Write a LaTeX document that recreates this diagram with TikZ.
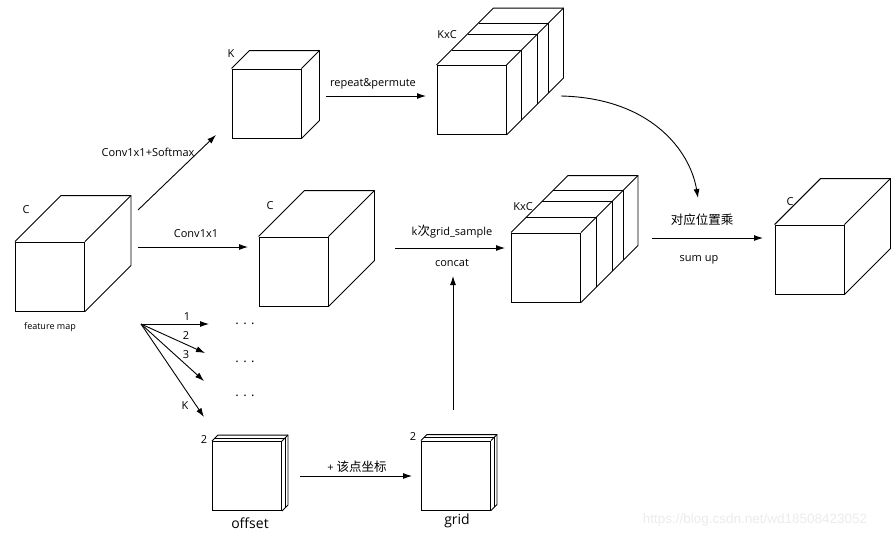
\documentclass[tikz,border=0pt]{standalone}
\usepackage{fontspec}
\setmainfont{Open Sans}
\newfontfamily\cjk{Noto Sans CJK SC}
\newfontfamily\wmfont{Liberation Sans}
\usetikzlibrary{arrows.meta}
\usetikzlibrary{calc}
\tikzset{>={Latex[length=9pt,width=6pt]}}
\colorlet{wmcol}{black!8}
\tikzset{
  face/.style={draw,line width=0.9pt,minimum width=69pt,minimum height=69pt,inner sep=0pt},
  lbl/.style={font=\fontsize{11}{13}\selectfont,inner sep=1pt},
  small lbl/.style={font=\fontsize{9}{10}\selectfont,inner sep=1pt},
  big lbl/.style={font=\fontsize{14}{16}\selectfont,inner sep=1pt},
  dots lbl/.style={font=\fontsize{13}{15}\selectfont,inner sep=1pt},
  conn/.style={->,line width=0.9pt}
}
\newcommand\zhtext[1]{{\cjk\fontsize{12.5}{14}\selectfont #1}}
% top and side face of a cube, drawn behind the front face node
\newcommand\cubeSides[2]{
  \draw[line width=0.9pt] (#1.north west) -- ++(#2,-#2) -| ($(#1.south east)+(#2,-#2)$) -- (#1.south east);
  \draw[line width=0.9pt] (#1.north east) -- ++(#2,-#2);
}
\newcommand\cubeSlice[2]{
  \draw[line width=0.9pt] ($(#1.north west)+(#2,-#2)$) -| ($(#1.south east)+(#2,-#2)$);
}

\begin{document}
\begin{tikzpicture}[x=1pt,y=-1pt]
  \useasboundingbox (0,0) rectangle (896,538);

  % CUBES
  \node[face] (fm) at (50,276.5) {};
  \cubeSides{fm}{46}
  \node[face] (kmap) at (266.5,103.5) {};
  \cubeSides{kmap}{18}
  \node[face] (kc1) at (471.5,100) {};
  \cubeSides{kc1}{57}
  \cubeSlice{kc1}{15}
  \cubeSlice{kc1}{31}
  \cubeSlice{kc1}{42}
  \node[face] (cmap) at (293.5,271.5) {};
  \cubeSides{cmap}{46}
  \node[face] (kc2) at (546,267.5) {};
  \cubeSides{kc2}{57}
  \cubeSlice{kc2}{15}
  \cubeSlice{kc2}{31}
  \cubeSlice{kc2}{42}
  \node[face] (out) at (809.5,259.5) {};
  \cubeSides{out}{46}
  \node[face] (off) at (247,476) {};
  \cubeSides{off}{6}
  \cubeSlice{off}{3}
  \node[face] (grid) at (456,475.5) {};
  \cubeSides{grid}{6}
  \cubeSlice{grid}{3}

  % LABELS
  \node[lbl] (cfm) at (26,210) {C};
  \node[small lbl] (tfm) at (50,327) {feature map};
  \node[lbl] (ck) at (231,54) {K};
  \node[lbl] (ckc1) at (447,35) {KxC};
  \node[lbl] (cc) at (270,206) {C};
  \node[lbl] (ckc2) at (523,207) {KxC};
  \node[lbl] (cout) at (790,202) {C};
  \node[lbl] (coff) at (204,440) {2};
  \node[lbl] (cgrid) at (413,437) {2};
  \node[big lbl] (toff) at (250,523) {offset};
  \node[big lbl] (tgrid) at (457,521) {grid};

  % ARROWS
  \coordinate (S) at (138,210);
  \coordinate (SE) at (216,135);
  \coordinate (C) at (138,247);
  \coordinate (CE) at (248,247);
  \coordinate (R) at (326,96);
  \coordinate (RE) at (426,96);
  \coordinate (G) at (395,248);
  \coordinate (GE) at (505,248);
  \coordinate (M) at (652,238);
  \coordinate (ME) at (763,238);
  \coordinate (P) at (561,96);
  \coordinate (PE) at (698,198);
  \coordinate (U) at (453,410);
  \coordinate (UE) at (453,276);
  \coordinate (A) at (300,476);
  \coordinate (AE) at (412,476);
  \coordinate (O) at (141,324);
  \coordinate (F1) at (209,324);
  \coordinate (F2) at (205,353);
  \coordinate (F3) at (204,381);
  \coordinate (FK) at (204,417);

  \draw[conn] (S) -- (SE);
  \node[lbl] (tsm) at (148,152) {Conv1x1+Softmax};
  \draw[conn] (C) -- (CE);
  \node[lbl] (tconv) at (196,234) {Conv1x1};
  \draw[conn] (R) -- (RE);
  \node[lbl] (trp) at (373,84) {repeat\&permute};
  \draw[conn] (G) -- (GE);
  \node[lbl] (tgs) at (452,232) {k\zhtext{次}grid\_sample};
  \node[lbl] (tcat) at (452,263) {concat};
  \draw[conn] (M) -- (ME);
  \node[lbl] (tmul) at (702,220) {\zhtext{对应位置乘}};
  \node[lbl] (tsum) at (699,260) {sum up};
  \draw[conn] (P) .. controls (650,98) and (690,150) .. (PE);
  \draw[conn] (U) -- (UE);
  \draw[conn] (A) -- (AE);
  \node[lbl] (tadd) at (357,467) {+ \zhtext{该点坐标}};

  % FAN
  \draw[conn] (O) -- (F1);
  \draw[conn] (O) -- (F2);
  \draw[conn] (O) -- (F3);
  \draw[conn] (O) -- (FK);
  \node[lbl] (n1) at (187,317) {1};
  \node[lbl] (n2) at (186,336) {2};
  \node[lbl] (n3) at (186,355) {3};
  \node[lbl] (nk) at (185,406) {K};
  \node[dots lbl] (d1) at (245,324) {.\,\,.\,\,.};
  \node[dots lbl] (d2) at (245,362) {.\,\,.\,\,.};
  \node[dots lbl] (d3) at (245,396) {.\,\,.\,\,.};

  \node[text=wmcol,font=\wmfont\fontsize{13.5}{15}\selectfont] (wm) at (755,520) {https://blog.csdn.net/wd18508423052};
\end{tikzpicture}
\end{document}
